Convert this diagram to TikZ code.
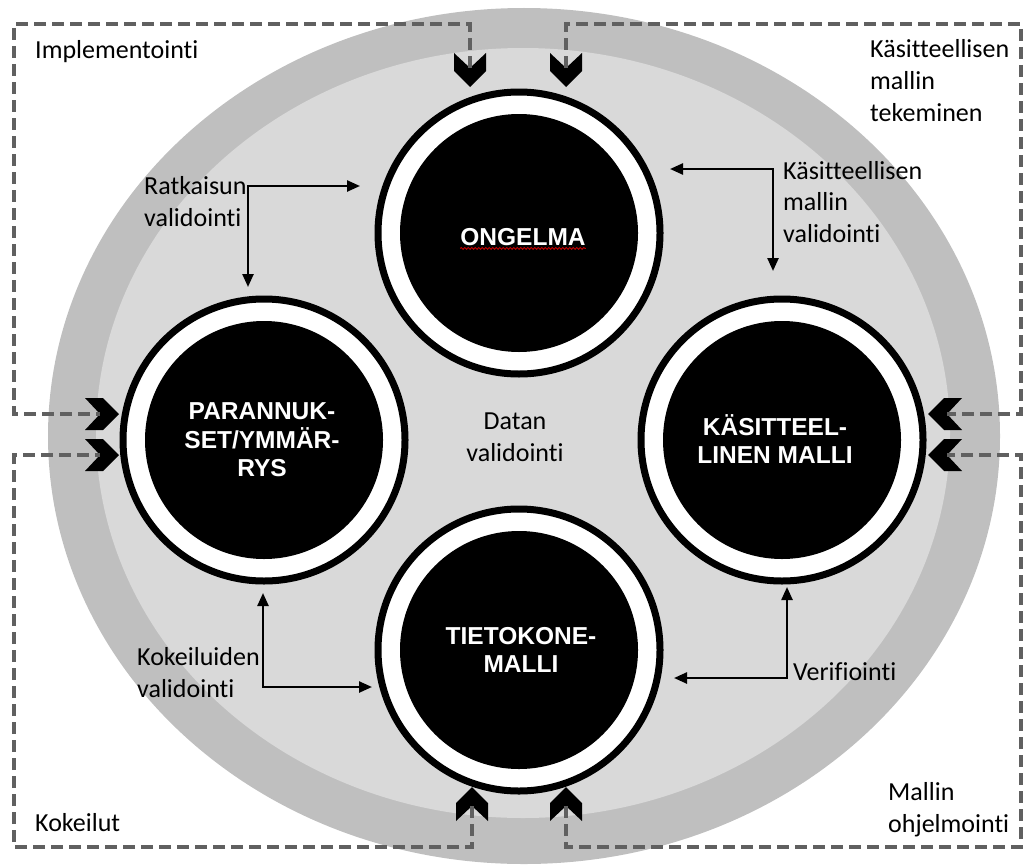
\documentclass[tikz,border=0pt]{standalone}
\usepackage{fontspec}
\newfontfamily\lblfont{Carlito}[Ligatures=NoCommon]
\newfontfamily\circfont{Liberation Sans}
\usetikzlibrary{arrows.meta,decorations.pathmorphing}
\definecolor{bandgray}{RGB}{191,191,191}
\definecolor{fieldgray}{RGB}{217,217,217}
\definecolor{dashgray}{RGB}{96,96,96}
\begin{document}
\begin{tikzpicture}[x=1pt,y=-1pt,
  lbl/.style={font=\lblfont\fontsize{26}{31.5}\selectfont, inner sep=0pt, text=black},
  circtxt/.style={font=\circfont\bfseries\fontsize{24.5}{28.5}\selectfont, text=white, align=center, inner sep=0pt},
  disk/.style={circle, fill=black, minimum size=238pt, inner sep=0pt},
  ring/.style={fill=white, draw=black, line width=7pt},
  loopline/.style={draw=dashgray, line width=4pt, dash pattern=on 12pt off 6pt},
  link/.style={draw=black, line width=2.4pt, {Triangle[length=13pt,width=11pt]}-{Triangle[length=13pt,width=11pt]}},
  chevron/.pic={\fill[black] (-15,-16) -- (0,0) -- (-15,16) -- (3,16) -- (19,0) -- (3,-16) -- cycle;}
]
\useasboundingbox (0,0) rectangle (1024,867);

% background bands
\fill[bandgray] (524,436) ellipse [x radius=476, y radius=428];
\fill[fieldgray] (523,433) ellipse [x radius=427, y radius=385];

% circle centres
\coordinate (ong-c) at (519,233);
\coordinate (par-c) at (264,440);
\coordinate (kas-c) at (782,440);
\coordinate (tie-c) at (519,650);

% rings and black disks
\foreach \c in {ong,par,kas,tie}{
  \draw[ring] (\c-c) circle [radius=141pt];
}
\node[disk] (ong) at (ong-c) {};
\node[disk] (par) at (par-c) {};
\node[disk] (kas) at (kas-c) {};
\node[disk] (tie) at (tie-c) {};

% circle titles
\node[circtxt] (t-ong) at (523,237) {ONGELMA};
\node[circtxt] (t-par) at (262,440) {PARANNUK-\\SET/YMMÄR-\\RYS};
\node[circtxt] (t-kas) at (775,439) {KÄSITTEEL-\\LINEN MALLI};
\node[circtxt] (t-tie) at (521,650) {TIETOKONE-\\MALLI};
\draw[red!75!black, line width=0.9pt, decorate,
      decoration={snake, amplitude=0.9pt, segment length=3.5pt}]
  ([yshift=-3pt]t-ong.base west) -- ([yshift=-3pt]t-ong.base east);

% chevron notches
\coordinate (nTL) at (470,68);
\coordinate (nTR) at (566,68);
\coordinate (nL1) at (100,414);
\coordinate (nL2) at (100,455);
\coordinate (nR1) at (947,414);
\coordinate (nR2) at (947,455);
\coordinate (nB1) at (472,806);
\coordinate (nB2) at (566,806);
% outer frame corners
\coordinate (fTL) at (14,24);
\coordinate (fTR) at (1021,24);
\coordinate (fBL) at (14,847);
\coordinate (fBR) at (1021,847);

\pic[rotate=-90] at (nTL) {chevron};
\pic[rotate=-90] at (nTR) {chevron};
\pic at (nL1) {chevron};
\pic at (nL2) {chevron};
\pic[rotate=180] at (nR1) {chevron};
\pic[rotate=180] at (nR2) {chevron};
\pic[rotate=90] at (nB1) {chevron};
\pic[rotate=90] at (nB2) {chevron};

% dashed outer loops
\draw[loopline] (nTL) |- (fTL) |- (nL1);
\draw[loopline] (nTR) |- (fTR) |- (nR1);
\draw[loopline] (nB1) |- (fBL) |- (nL2);
\draw[loopline] (nB2) |- (fBR) |- (nR2);

% outer labels (multi-line nodes sit on the baseline of their last line)
\node[lbl, anchor=base west] (l-impl) at (35,59) {Implementointi};
\node[lbl, anchor=base west, align=left] (l-kmt) at (870,121) {Käsitteellisen\\mallin\\tekeminen};
\node[lbl, anchor=base west] (l-kok) at (35,831) {Kokeilut};
\node[lbl, anchor=base west, align=left] (l-moh) at (888,832) {Mallin\\ohjelmointi};

% validation arrows
\coordinate (ratk-c) at (248,186);
\coordinate (ratk-a) at (360,186);
\coordinate (ratk-b) at (248,287);
\draw[link] (ratk-a) -- (ratk-c) -- (ratk-b);
\node[lbl, anchor=base west, align=left] (l-ratk) at (144,226) {Ratkaisun\\validointi};

\coordinate (kmv-c) at (773,169);
\coordinate (kmv-a) at (670,169);
\coordinate (kmv-b) at (773,271);
\draw[link] (kmv-a) -- (kmv-c) -- (kmv-b);
\node[lbl, anchor=base west, align=left] (l-kmv) at (783,242) {Käsitteellisen\\mallin\\validointi};

\coordinate (kv-c) at (263,687);
\coordinate (kv-a) at (263,593);
\coordinate (kv-b) at (372,687);
\draw[link] (kv-a) -- (kv-c) -- (kv-b);
\node[lbl, anchor=base west, align=left] (l-kv) at (137,697) {Kokeiluiden\\validointi};

\coordinate (ver-c) at (787,678);
\coordinate (ver-a) at (674,678);
\coordinate (ver-b) at (787,587);
\draw[link] (ver-a) -- (ver-c) -- (ver-b);
\node[lbl, anchor=base west] (l-ver) at (793,680) {Verifiointi};

\node[lbl, anchor=base, align=center] (l-dat) at (515,461) {Datan\\validointi};
\end{tikzpicture}
\end{document}
